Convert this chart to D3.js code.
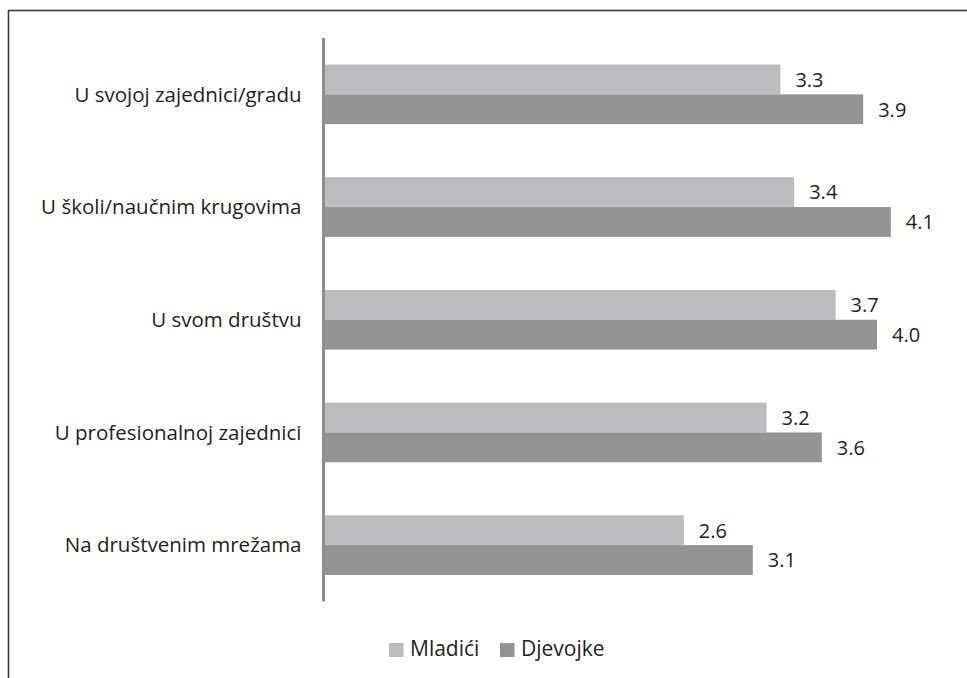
<!DOCTYPE html>
<html>
<head>
<meta charset="utf-8">
<script src="https://cdn.jsdelivr.net/npm/d3@7"></script>
<style>
  html, body { margin: 0; padding: 0; background: #fff; }
  svg { display: block; }
  text { font-family: "Open Sans", Lato, sans-serif; fill: #1e1e1e; }
</style>
</head>
<body>
<svg id="chart" width="967" height="678"></svg>
<script>
const categories = [
  "U svojoj zajednici/gradu",
  "U školi/naučnim krugovima",
  "U svom društvu",
  "U profesionalnoj zajednici",
  "Na društvenim mrežama"
];
const seriesNames = ["Mladići", "Djevojke"];
const mladici = [3.3, 3.4, 3.7, 3.2, 2.6];
const djevojke = [3.9, 4.1, 4.0, 3.6, 3.1];
const seriesColors = ["#bbbcbf", "#939396"];

const svg = d3.select("#chart");

// frame (only top and left edges fall inside the viewport)
svg.append("rect")
  .attr("x", 8.5).attr("y", 10.5)
  .attr("width", 1000).attr("height", 700)
  .attr("fill", "none").attr("stroke", "#3a3a3a").attr("stroke-width", 1.6);

const x = d3.scaleLinear().domain([0, 4.5]).range([325, 325 + 138 * 4.5]);
const y = d3.scaleBand().domain(categories).range([38, 601.5]).paddingInner(0).paddingOuter(0);
const barH = 29.8;

const data = categories.map((c, i) => ({ cat: c, vals: [mladici[i], djevojke[i]] }));

const g = svg.append("g");
data.forEach(d => {
  const cy = y(d.cat) + y.bandwidth() / 2;
  d.vals.forEach((v, j) => {
    const top = cy - barH + j * barH;
    g.append("rect")
      .attr("x", x(0)).attr("y", top)
      .attr("width", x(v) - x(0)).attr("height", barH)
      .attr("fill", seriesColors[j]);
    g.append("text")
      .attr("x", x(v) + 15).attr("y", top + barH / 2 + 2)
      .attr("dominant-baseline", "middle")
      .attr("font-size", 20)
      .text(v.toFixed(1));
  });
});

// category axis
const axis = d3.axisLeft(y).tickSize(0).tickPadding(22);
const ax = svg.append("g").attr("transform", "translate(323.5,0)").call(axis);
ax.select(".domain").attr("stroke", "#8e8e90").attr("stroke-width", 3).attr("d", "M0,38V601.5");
ax.selectAll(".tick text").attr("font-size", 20.5).attr("font-family", "'Open Sans', sans-serif").attr("fill", "#1e1e1e").attr("dy", "0.35em").attr("y", 0);

// legend
const legendX = [389, 500];
seriesNames.forEach((s, i) => {
  svg.append("rect").attr("x", legendX[i]).attr("y", 643).attr("width", 14.5).attr("height", 14)
    .attr("fill", seriesColors[i]);
  svg.append("text").attr("x", legendX[i] + 21).attr("y", 650.5)
    .attr("dominant-baseline", "middle").attr("font-size", 21).text(s);
});
</script>
</body>
</html>
